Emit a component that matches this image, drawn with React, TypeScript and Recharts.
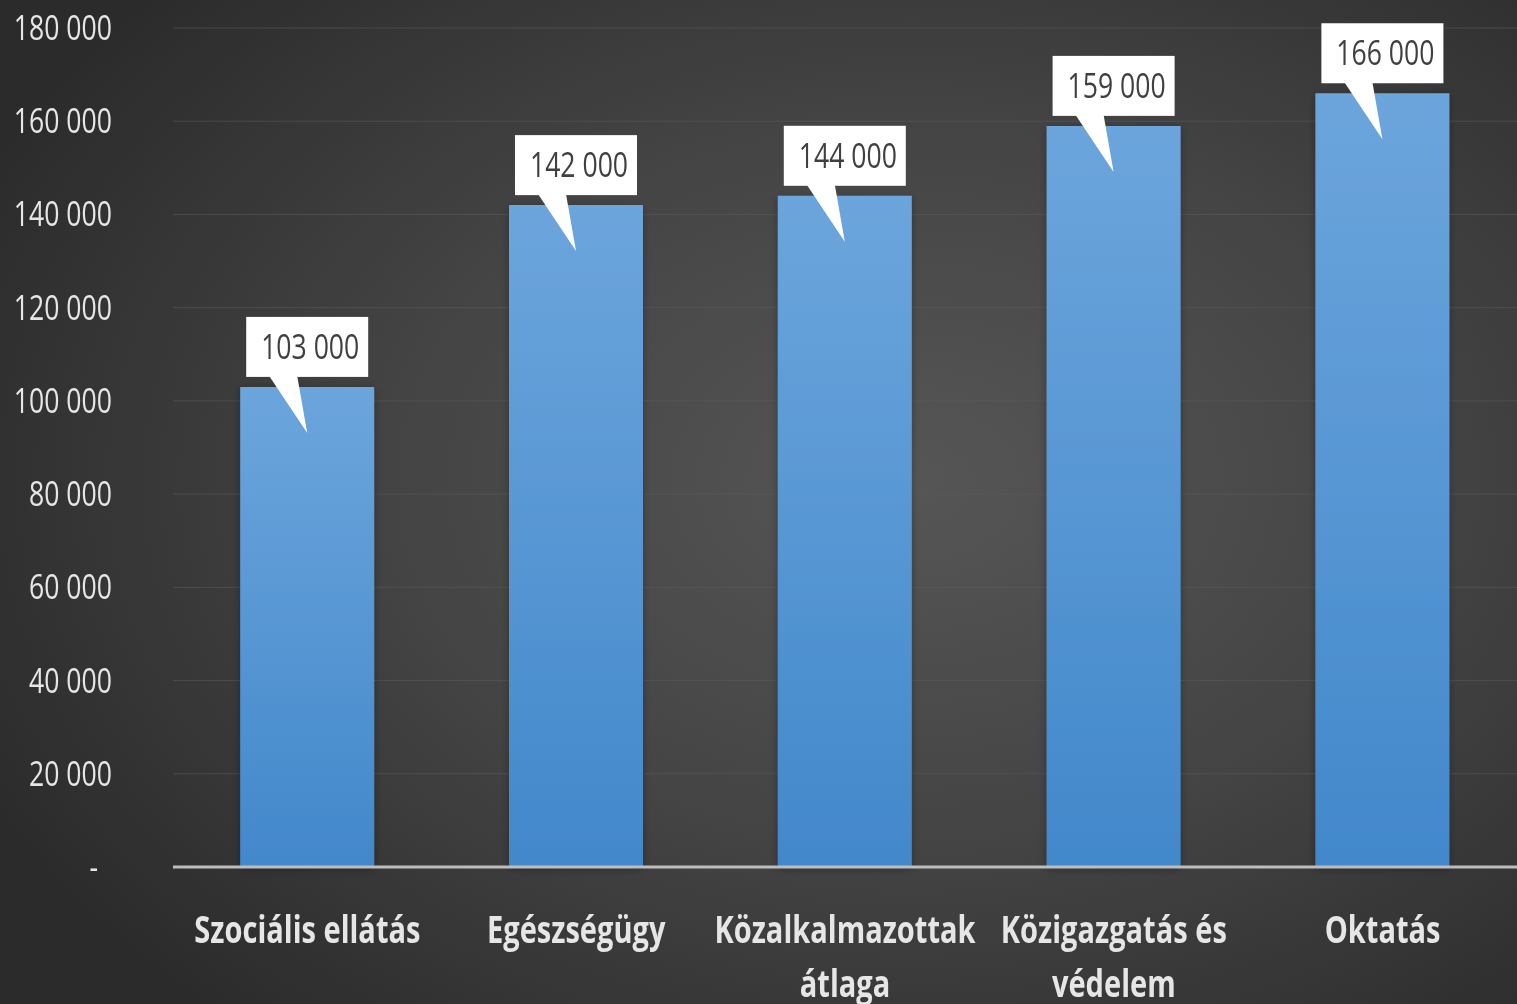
import { Bar, BarChart, CartesianGrid, LabelList, XAxis, YAxis } from "recharts";

const categories = [
  "Szociális ellátás",
  "Egészségügy",
  "Közalkalmazottak\nátlaga",
  "Közigazgatás és\nvédelem",
  "Oktatás",
];
const salaries = [103000, 142000, 144000, 159000, 166000];
const yTicks = [0, 20000, 40000, 60000, 80000, 100000, 120000, 140000, 160000, 180000];

const data = categories.map((name, i) => ({ name, value: salaries[i] }));

// no condensed font here, so text is squeezed sideways with a scale
const FONT = "'Open Sans', 'Noto Sans', 'Liberation Sans', sans-serif";
const SQUEEZE = 0.76;

const fmt = (v: number): string =>
  v === 0 ? "-" : String(v).replace(/\B(?=(\d{3})+(?!\d))/g, " ");

const YTick = (props: any) => {
  const { x, y, payload } = props;
  // accounting style: the zero dash sits a bit in from the right edge
  const dx = payload.value === 0 ? -67 : -53;
  return (
    <g transform={`translate(${x + dx},${y + 12}) scale(${SQUEEZE},1)`}>
      <text
        x={0}
        y={0}
        textAnchor="end"
        fill="#e6e6e6"
        fontSize={35}
        fontWeight={500}
        fontFamily={FONT}
      >
        {fmt(payload.value)}
      </text>
    </g>
  );
};

const XTick = (props: any) => {
  const { x, y, payload } = props;
  const lines = String(payload.value).split("\n");
  return (
    <g>
      {lines.map((line, i) => (
        <g key={i} transform={`translate(${x},${y + 68 + i * 54}) scale(0.785,1)`}>
          <text
            x={0}
            y={0}
            textAnchor="middle"
            fill="#e6e6e6"
            fontSize={37}
            fontWeight="bold"
            fontFamily={FONT}
          >
            {line}
          </text>
        </g>
      ))}
    </g>
  );
};

const Callout = (props: any) => {
  const { x, y, width, value } = props;
  const cx = x + width / 2;
  const boxW = 122;
  const boxH = 60;
  const bottom = y - 10;
  const top = bottom - boxH;
  return (
    <g>
      <polygon
        points={`${cx - 38},${bottom - 1} ${cx - 10},${bottom - 1} ${cx},${y + 46}`}
        fill="#ffffff"
      />
      <rect x={cx - boxW / 2} y={top} width={boxW} height={boxH} fill="#ffffff" />
      <g transform={`translate(${cx + 3},${top + boxH / 2 + 12}) scale(${SQUEEZE},1)`}>
        <text
          x={0}
          y={0}
          textAnchor="middle"
          fill="#404040"
          fontSize={35}
          fontWeight={500}
          fontFamily={FONT}
        >
          {fmt(value)}
        </text>
      </g>
    </g>
  );
};

export default function App() {
  return (
    <div
      style={{
        position: "fixed",
        left: 0,
        top: 0,
        width: 1517,
        height: 1004,
        background:
          "radial-gradient(ellipse 68% 72% at 60% 48%, #565656 0%, #444444 50%, #2b2b2b 100%)",
      }}
    >
      <BarChart
        width={1517}
        height={1004}
        data={data}
        margin={{ top: 28, right: 0, left: 0, bottom: 0 }}
        barCategoryGap="25%"
      >
        <defs>
          <linearGradient id="bar-fill" x1="0" y1="0" x2="0" y2="1">
            <stop offset="0%" stopColor="#6ca5dc" />
            <stop offset="100%" stopColor="#4288cb" />
          </linearGradient>
          <filter id="bar-shadow" x="-20%" y="-5%" width="140%" height="110%">
            <feDropShadow dx="0" dy="2" stdDeviation="4" floodColor="#000" floodOpacity="0.3" />
          </filter>
        </defs>
        <CartesianGrid vertical={false} stroke="#5c5c5c" strokeOpacity={0.55} />
        <XAxis
          dataKey="name"
          height={137}
          tickLine={false}
          axisLine={{ stroke: "#bdbdbd", strokeWidth: 3 }}
          tick={<XTick />}
          interval={0}
        />
        <YAxis
          width={173}
          domain={[0, 180000]}
          ticks={yTicks}
          tickLine={false}
          axisLine={false}
          tick={<YTick />}
          interval={0}
        />
        <Bar
          dataKey="value"
          fill="url(#bar-fill)"
          filter="url(#bar-shadow)"
          isAnimationActive={false}
        >
          <LabelList dataKey="value" content={<Callout />} />
        </Bar>
      </BarChart>
    </div>
  );
}
